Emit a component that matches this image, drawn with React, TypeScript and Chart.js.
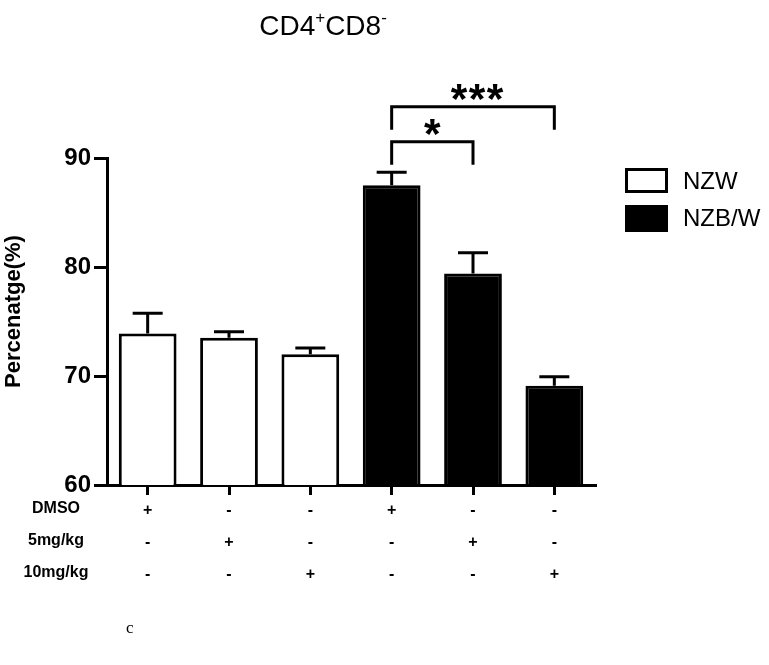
import React, { useEffect, useRef } from 'react';
import { Chart, registerables } from 'chart.js';

Chart.register(...registerables);

// ---- data ----
const groups = ['NZW', 'NZB/W'];
const rowLabels = ['DMSO', '5mg/kg', '10mg/kg'];
const dmso = ['+', '-', '-', '+', '-', '-'];
const dose5 = ['-', '+', '-', '-', '+', '-'];
const dose10 = ['-', '-', '+', '-', '-', '+'];
const nzwValues = [73.9, 73.5, 72.0, null, null, null];
const nzwErrors = [1.85, 0.55, 0.57, null, null, null];
const nzbwValues = [null, null, null, 87.5, 79.4, 69.1];
const nzbwErrors = [null, null, null, 1.2, 1.9, 0.83];
const yTicks = [60, 70, 80, 90];
const yTitle = 'Percenatge(%)';
// [fromIndex, toIndex, label, bracket level (data units)]
const comparisons: [number, number, string, number][] = [
  [3, 4, '*', 91.5],
  [3, 5, '***', 94.7],
];
const panelLetter = 'c';

const categories = dmso.map((d, i) => [d, dose5[i], dose10[i]]);
const FONT = '"Liberation Sans", Arial, Helvetica, sans-serif';

const overlay = {
  id: 'overlay',
  afterDraw(chart: any) {
    const ctx = chart.ctx as CanvasRenderingContext2D;
    const x = chart.scales.x;
    const y = chart.scales.y;
    const area = chart.chartArea;
    ctx.save();
    ctx.fillStyle = '#000';
    ctx.strokeStyle = '#000';

    // error bars
    const drawErr = (vals: (number | null)[], errs: (number | null)[]) => {
      vals.forEach((v, i) => {
        const e = errs[i];
        if (v == null || e == null) return;
        const px = x.getPixelForValue(i);
        const top = y.getPixelForValue(v);
        const cap = y.getPixelForValue(v + e);
        ctx.lineWidth = 3;
        ctx.beginPath();
        ctx.moveTo(px, top);
        ctx.lineTo(px, cap);
        ctx.moveTo(px - 15, cap);
        ctx.lineTo(px + 15, cap);
        ctx.stroke();
      });
    };
    drawErr(nzwValues, nzwErrors);
    drawErr(nzbwValues, nzbwErrors);

    // brackets + stars
    const drawStars = (text: string, cx: number, cy: number, h: number) => {
      ctx.font = `bold 40px ${FONT}`;
      let m = ctx.measureText('*');
      const gh = m.actualBoundingBoxAscent + m.actualBoundingBoxDescent;
      const size = (40 * h) / gh;
      ctx.font = `bold ${size}px ${FONT}`;
      m = ctx.measureText('*');
      const baseline = cy - (m.actualBoundingBoxDescent - m.actualBoundingBoxAscent) / 2;
      ctx.textAlign = 'center';
      ctx.textBaseline = 'alphabetic';
      const n = text.length;
      for (let i = 0; i < n; i++) {
        ctx.fillText(text[i], cx + (i - (n - 1) / 2) * 18, baseline);
      }
    };
    comparisons.forEach(([a, b, label, level]) => {
      const x1 = x.getPixelForValue(a);
      const x2 = x.getPixelForValue(b);
      const yt = y.getPixelForValue(level);
      ctx.lineWidth = 3;
      ctx.lineJoin = 'miter';
      ctx.beginPath();
      ctx.moveTo(x1, yt + 23);
      ctx.lineTo(x1, yt);
      ctx.lineTo(x2, yt);
      ctx.lineTo(x2, yt + 23);
      ctx.stroke();
      drawStars(label, (x1 + x2) / 2 + (label.length > 1 ? 4 : 0), yt - 15, 17);
    });

    // title with superscripts
    const parts: [string, boolean][] = [
      ['CD4', false],
      ['+', true],
      ['CD8', false],
      ['-', true],
    ];
    let total = 0;
    parts.forEach(([t, sup]) => {
      ctx.font = `${sup ? 17 : 28}px ${FONT}`;
      total += ctx.measureText(t).width;
    });
    let tx = 323 - total / 2;
    ctx.textAlign = 'left';
    ctx.textBaseline = 'alphabetic';
    parts.forEach(([t, sup]) => {
      ctx.font = `${sup ? 17 : 28}px ${FONT}`;
      ctx.fillText(t, tx, sup ? 23 : 35);
      tx += ctx.measureText(t).width;
    });

    // y-axis title
    ctx.save();
    ctx.translate(20, (area.top + area.bottom) / 2 - 10);
    ctx.rotate(-Math.PI / 2);
    ctx.font = `bold 22px ${FONT}`;
    ctx.textAlign = 'center';
    ctx.textBaseline = 'alphabetic';
    ctx.fillText(yTitle, 0, 0);
    ctx.restore();

    // row labels of treatment table
    ctx.font = `bold 16px ${FONT}`;
    ctx.textAlign = 'center';
    ctx.textBaseline = 'middle';
    rowLabels.forEach((r, i) => {
      ctx.fillText(r, 56, x.top + 10 + 32 * (i + 0.5) - 2);
    });

    // legend
    const lx = 625;
    const ly = [168, 205];
    groups.forEach((g, i) => {
      if (i === 0) {
        ctx.fillStyle = '#fff';
        ctx.fillRect(lx, ly[i], 43, 25);
        ctx.lineWidth = 3;
        ctx.strokeStyle = '#000';
        ctx.strokeRect(lx + 1.5, ly[i] + 1.5, 40, 22);
      } else {
        ctx.fillStyle = '#000';
        ctx.fillRect(lx, ly[i], 43, 27);
      }
      ctx.fillStyle = '#000';
      ctx.font = `24px ${FONT}`;
      ctx.textAlign = 'left';
      ctx.textBaseline = 'middle';
      ctx.fillText(g, 683, ly[i] + 14);
    });

    // panel letter
    ctx.font = '17px "Liberation Serif", "Times New Roman", serif';
    ctx.textAlign = 'left';
    ctx.textBaseline = 'alphabetic';
    ctx.fillText(panelLetter, 126, 633);

    ctx.restore();
  },
};

export default function App() {
  const ref = useRef<HTMLCanvasElement>(null);
  useEffect(() => {
    if (!ref.current) return;
    Chart.defaults.font.family = FONT;
    Chart.defaults.color = '#000';
    const chart = new Chart(ref.current, {
      type: 'bar',
      data: {
        labels: categories,
        datasets: [
          {
            label: groups[0],
            data: nzwValues,
            backgroundColor: '#fff',
            borderColor: '#000',
            borderWidth: 3,
          },
          {
            label: groups[1],
            data: nzbwValues,
            backgroundColor: '#000',
            borderColor: '#000',
            borderWidth: 3,
          },
        ],
      },
      options: {
        animation: false,
        responsive: false,
        grouped: false,
        barPercentage: 0.71,
        categoryPercentage: 1,
        layout: { padding: { top: 158, right: 174, left: 0, bottom: 0 } },
        plugins: {
          legend: { display: false },
          tooltip: { enabled: false },
          title: { display: false },
        },
        scales: {
          x: {
            offset: true,
            grid: {
              display: true,
              offset: false,
              drawOnChartArea: false,
              drawTicks: true,
              tickLength: 10,
              tickWidth: 3,
              tickColor: '#000',
              lineWidth: 3,
              color: '#000',
            },
            border: { display: true, width: 3, color: '#000' },
            ticks: {
              color: '#000',
              padding: 0,
              maxRotation: 0,
              autoSkip: false,
              font: { size: 16, weight: 'bold', lineHeight: 2 },
            },
            afterFit: (s: any) => {
              s.height = 180;
            },
          },
          y: {
            min: 60,
            max: 90,
            afterBuildTicks: (s: any) => {
              s.ticks = yTicks.map((v) => ({ value: v }));
            },
            grid: {
              display: true,
              drawOnChartArea: false,
              drawTicks: true,
              tickLength: 13,
              tickWidth: 3,
              tickColor: '#000',
              lineWidth: 3,
              color: '#000',
            },
            border: { display: true, width: 3, color: '#000' },
            ticks: {
              color: '#000',
              padding: 3,
              font: { size: 24, weight: 'bold' },
            },
            afterFit: (s: any) => {
              s.width = 107;
            },
          },
        },
      } as any,
      plugins: [overlay],
    });
    return () => chart.destroy();
  }, []);
  return (
    <div style={{ position: 'absolute', left: 0, top: 0, width: 769, height: 665, background: '#fff' }}>
      <canvas ref={ref} width={769} height={665} />
    </div>
  );
}
